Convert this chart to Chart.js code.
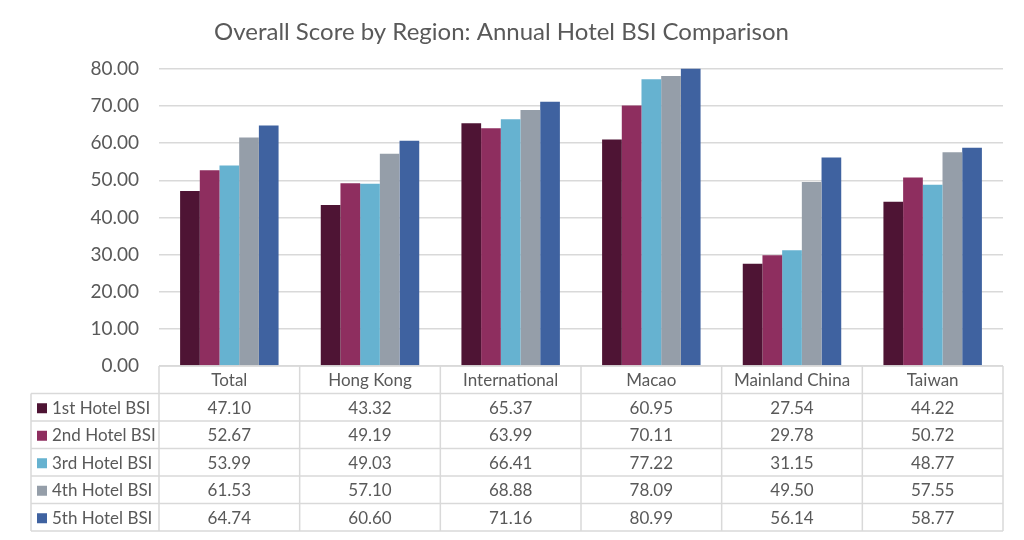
<!DOCTYPE html>
<html lang="en">
<head>
  <meta charset="UTF-8">
  <title>Overall Score by Region</title>
  <script src="https://cdn.jsdelivr.net/npm/chart.js@4.4.7/dist/chart.umd.min.js"></script>
  <style>
    * { margin: 0; padding: 0; box-sizing: border-box; }
    body { background: #fff; width: 1024px; height: 540px; overflow: hidden; }
    #wrap { width: 1024px; height: 540px; }
  </style>
</head>
<body>
  <div id="wrap"><canvas id="bsiChart"></canvas></div>

  <script>
    const categories = ['Total', 'Hong Kong', 'International', 'Macao', 'Mainland China', 'Taiwan'];
    const seriesNames = ['1st Hotel BSI', '2nd Hotel BSI', '3rd Hotel BSI', '4th Hotel BSI', '5th Hotel BSI'];
    const bsi1 = [47.10, 43.32, 65.37, 60.95, 27.54, 44.22];
    const bsi2 = [52.67, 49.19, 63.99, 70.11, 29.78, 50.72];
    const bsi3 = [53.99, 49.03, 66.41, 77.22, 31.15, 48.77];
    const bsi4 = [61.53, 57.10, 68.88, 78.09, 49.50, 57.55];
    const bsi5 = [64.74, 60.60, 71.16, 80.99, 56.14, 58.77];
    const colors = ['#4E1434', '#8E2E5F', '#66B2D0', '#959EA9', '#3F62A0'];

    const FONT = "Lato, 'Open Sans', sans-serif";
    const TEXT = '#595959';
    const LINE = '#D9D9D9';

    // data table drawn under the plot, columns follow the x scale
    const dataTable = {
      id: 'dataTable',
      afterDraw(chart) {
        const c = chart.ctx;
        const xs = chart.scales.x;
        const area = chart.chartArea;
        const rowH = 27.5;
        const legendLeft = 31;
        const colW = (xs.right - xs.left) / categories.length;
        const top = area.bottom;
        const sets = chart.data.datasets;
        const bottom = top + rowH * (sets.length + 1);

        c.save();
        c.strokeStyle = LINE;
        c.lineWidth = 1.5;
        c.beginPath();
        // header top
        c.moveTo(xs.left, top); c.lineTo(xs.right, top);
        for (let r = 1; r <= sets.length + 1; r++) {
          const y = top + rowH * r;
          c.moveTo(legendLeft, y); c.lineTo(xs.right, y);
        }
        for (let i = 0; i <= categories.length; i++) {
          const x = xs.left + colW * i;
          c.moveTo(x, top); c.lineTo(x, bottom);
        }
        c.moveTo(legendLeft, top + rowH); c.lineTo(legendLeft, bottom);
        c.stroke();

        c.fillStyle = TEXT;
        c.font = '17px ' + FONT;
        c.textAlign = 'center';
        c.textBaseline = 'middle';
        categories.forEach((cat, i) => {
          c.fillText(cat, xs.getPixelForValue(i), top + rowH / 2 + 1);
        });
        sets.forEach((ds, r) => {
          const y = top + rowH * (r + 1.5) + 1;
          c.fillStyle = ds.backgroundColor;
          c.fillRect(legendLeft + 6, y - 5, 10, 10);
          c.fillStyle = TEXT;
          c.textAlign = 'left';
          c.fillText(ds.label, legendLeft + 21, y);
          c.textAlign = 'center';
          ds.data.forEach((v, i) => {
            c.fillText(v.toFixed(2), xs.getPixelForValue(i), y);
          });
        });
        c.restore();
      }
    };

    const series = [bsi1, bsi2, bsi3, bsi4, bsi5];

    new Chart(document.getElementById('bsiChart'), {
      type: 'bar',
      data: {
        labels: categories,
        datasets: series.map((d, i) => ({
          label: seriesNames[i],
          data: d,
          backgroundColor: colors[i],
          borderWidth: 0,
          categoryPercentage: 0.7,
          barPercentage: 1.0
        }))
      },
      options: {
        responsive: true,
        maintainAspectRatio: false,
        animation: false,
        layout: { padding: { left: 0, right: 21, top: 0, bottom: 174 } },
        plugins: {
          legend: { display: false },
          tooltip: { enabled: false },
          title: {
            display: true,
            text: 'Overall Score by Region: Annual Hotel BSI Comparison',
            color: TEXT,
            font: { family: FONT, size: 24, weight: 'normal' },
            padding: { top: 18, bottom: 22 }
          }
        },
        scales: {
          x: {
            ticks: { display: false },
            grid: { display: false },
            border: { display: false },
            afterFit(s) { s.height = 0; }
          },
          y: {
            min: 0,
            max: 80,
            ticks: {
              stepSize: 10,
              color: TEXT,
              padding: 20,
              font: { family: FONT, size: 19 },
              callback: v => v.toFixed(2)
            },
            grid: { color: LINE, lineWidth: 1.5, drawTicks: false },
            border: { display: false },
            afterFit(s) { s.width = 159; }
          }
        }
      },
      plugins: [dataTable]
    });
  </script>
</body>
</html>
